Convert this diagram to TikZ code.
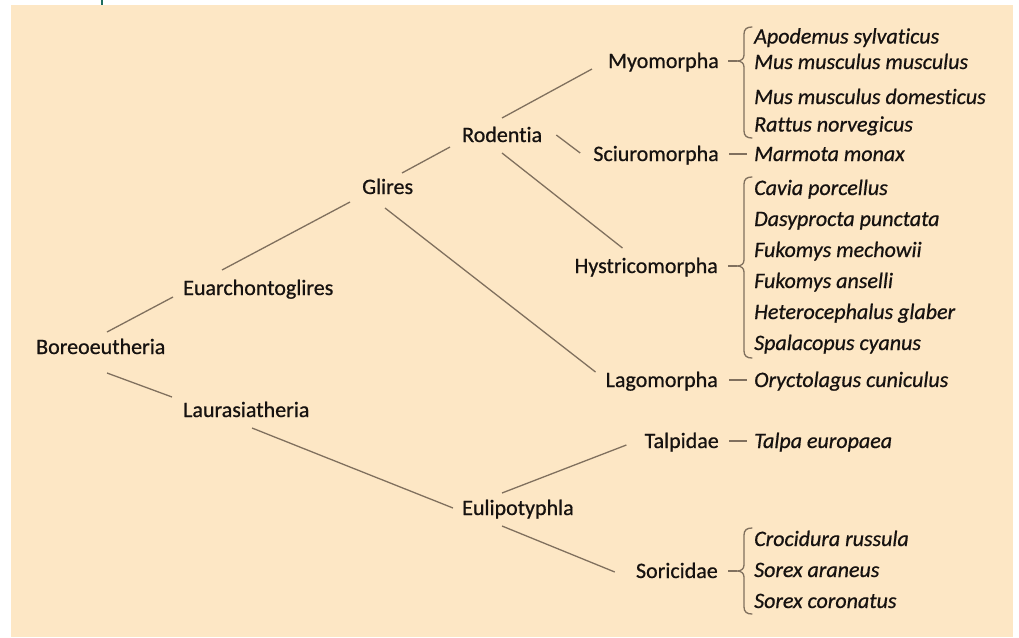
\documentclass[tikz,border=0pt]{standalone}
\usepackage{fontspec}
\setmainfont{Carlito}[FakeBold=0.7, Ligatures=NoCommon]
\usetikzlibrary{calc}
\definecolor{bgbeige}{RGB}{253,231,197}
\definecolor{linecol}{RGB}{128,112,94}
\definecolor{txtcol}{RGB}{22,18,16}
\definecolor{tickcol}{RGB}{30,110,95}
\newcommand\taxbrace[3]{% #1 tip y, #2 top, #3 bottom
  \draw[brc] (752,#2) .. controls (747,#2) and (744,{#2+2}) .. (744,{#2+7})
    -- (744,{#1-6}) .. controls (744,{#1-2}) and (741,#1) .. (737,#1)
    .. controls (741,#1) and (744,{#1+2}) .. (744,{#1+6})
    -- (744,{#3-7}) .. controls (744,{#3-2}) and (747,#3) .. (752,#3);}
\begin{document}
\begin{tikzpicture}[x=1pt,y=-1pt,
  lbl/.style={inner sep=0pt, font=\fontsize{22}{26}\selectfont, text=txtcol},
  lw/.style={lbl, anchor=base west},
  le/.style={lbl, anchor=base east},
  spc/.style={inner sep=0pt, font=\fontsize{22}{26}\selectfont\itshape, text=txtcol, anchor=base west},
  link/.style={draw=linecol, line width=1.3pt},
  brc/.style={draw=linecol, line width=1.3pt, line cap=round}]
\useasboundingbox (0,0) rectangle (1019,637);
\fill[bgbeige] (11,5) rectangle (1013,637);
\fill[tickcol] (101,0) rectangle (103,5);

% inner labels
\node[lw] (bor) at (36,354) {Boreoeutheria};
\node[lw] (eua) at (183,295) {Euarchontoglires};
\node[lw] (lau) at (183,417) {Laurasiatheria};
\node[lw] (gli) at (362,194) {Glires};
\node[lw] (rod) at (462,142) {Rodentia};
\node[lw] (eul) at (462,515) {Eulipotyphla};
\node[le] (myo) at (719,68) {Myomorpha};
\node[le] (sci) at (719,161) {Sciuromorpha};
\node[le] (hys) at (718,273) {Hystricomorpha};
\node[le] (lag) at (718,387) {Lagomorpha};
\node[le] (tal) at (719,448) {Talpidae};
\node[le] (sor) at (718,578) {Soricidae};

% species
\node[spc] (s1) at (754,43.5) {Apodemus sylvaticus};
\node[spc] (s2) at (754,69) {Mus musculus musculus};
\node[spc] (s3) at (754,104) {Mus musculus domesticus};
\node[spc] (s4) at (754,131.5) {Rattus norvegicus};
\node[spc] (marm) at (754,161) {Marmota monax};
\node[spc] (h1) at (754,195) {Cavia porcellus};
\node[spc] (h2) at (754,226) {Dasyprocta punctata};
\node[spc] (h3) at (754,257) {Fukomys mechowii};
\node[spc] (h4) at (754,288) {Fukomys anselli};
\node[spc] (h5) at (754,319) {Heterocephalus glaber};
\node[spc] (h6) at (754,350) {Spalacopus cyanus};
\node[spc] (oryc) at (754,387) {Oryctolagus cuniculus};
\node[spc] (talp) at (754,448) {Talpa europaea};
\node[spc] (c1) at (754,546) {Crocidura russula};
\node[spc] (c2) at (754,577) {Sorex araneus};
\node[spc] (c3) at (754,608) {Sorex coronatus};

% tree connectors
\draw[link] ($(bor.base west)+(71,-22)$) -- ($(eua.base west)+(-10,2)$);
\draw[link] ($(bor.base west)+(71,19)$) -- ($(lau.base west)+(-11,-20)$);
\draw[link] ($(eua.base west)+(39,-25)$) -- ($(gli.base west)+(-12,8)$);
\draw[link] ($(gli.base west)+(40,-21)$) -- ($(rod.base west)+(-12,5)$);
\draw[link] ($(rod.base west)+(40,-24)$) -- ($(myo.base west)+(-16,1)$);
\draw[link] ($(rod.base east)+(14,-7)$) -- ($(sci.base west)+(-13,-8)$);
\draw[link] ($(rod.base west)+(40,11)$) -- ($(hys.base west)+(48,-25)$);
\draw[link] ($(gli.base west)+(23,14)$) -- ($(lag.base west)+(-10,-15)$);
\draw[link] ($(lau.base west)+(69,11)$) -- ($(eul.base west)+(-9,-7)$);
\draw[link] ($(eul.base west)+(40,-22)$) -- ($(tal.base west)+(-18,-3)$);
\draw[link] ($(eul.base west)+(40,11)$) -- ($(sor.base west)+(-21,-6)$);

% single-species dashes
\draw[link] ($(sci.base east)+(10,-7)$) -- ($(marm.base west)+(-7,-7)$);
\draw[link] ($(lag.base east)+(11,-7)$) -- ($(oryc.base west)+(-7,-7)$);
\draw[link] ($(tal.base east)+(10,-7)$) -- ($(talp.base west)+(-7,-7)$);

% braces
\coordinate (myotip) at (737,61);
\coordinate (hystip) at (737,266);
\coordinate (sortip) at (737,571);
\taxbrace{61}{27}{138}
\taxbrace{266}{177}{358}
\taxbrace{571}{528}{614}
\draw[link] ($(myo.base east)+(9,-7)$) -- (myotip);
\draw[link] ($(hys.base east)+(10,-7)$) -- (hystip);
\draw[link] ($(sor.base east)+(10,-7)$) -- (sortip);
\end{tikzpicture}
\end{document}
